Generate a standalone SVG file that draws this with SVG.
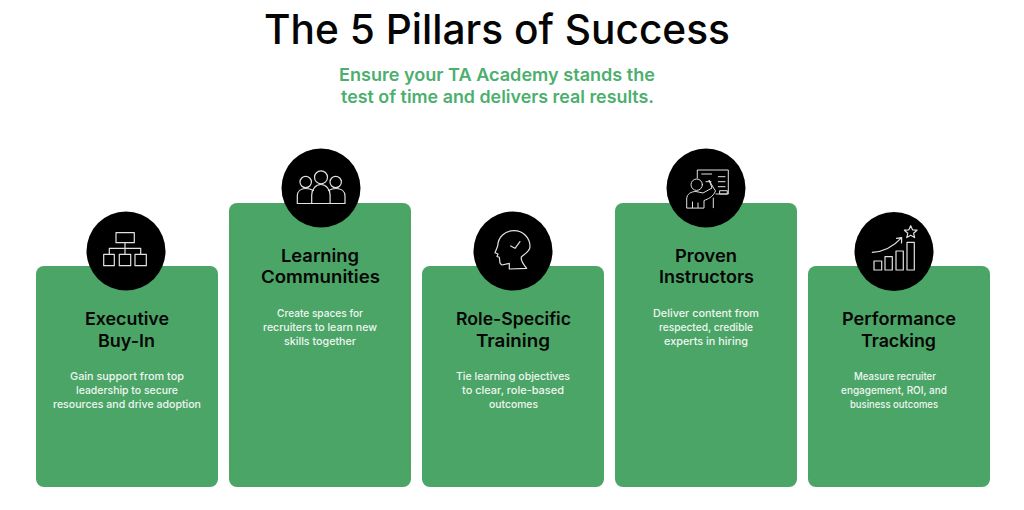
<svg xmlns="http://www.w3.org/2000/svg" width="1024" height="510" viewBox="0 0 1024 510">
<style>
text{font-family:"Inter","Liberation Sans",sans-serif;text-anchor:start}
.t{font-size:41px;font-weight:500;fill:#050505}
.s{font-size:17.5px;font-weight:600;fill:#4caf6e}
.h{font-size:17.5px;font-weight:600;fill:#060606}
.b{font-size:11px;font-weight:500;fill:#eef6f0}
.c{fill:#4ba566}
.k{fill:#000}
.i{fill:none;stroke:#e2e2e2;stroke-width:1.2;stroke-linejoin:round;stroke-linecap:round}
</style>
<rect width="1024" height="510" fill="#fff"/>
<g id="header">
<text class="t" x="264" y="44" textLength="466" lengthAdjust="spacingAndGlyphs">The 5 Pillars of Success</text>
<text class="s" x="339" y="81" textLength="316" lengthAdjust="spacingAndGlyphs">Ensure your TA Academy stands the</text>
<text class="s" x="341" y="103" textLength="313" lengthAdjust="spacingAndGlyphs">test of time and delivers real results.</text>
</g>
<g id="connectors"></g>
<g id="pillar-1">
<rect class="c" x="36" y="266" width="182" height="221" rx="8"/>
<circle class="k" cx="126" cy="251" r="39.5"/>
<g class="i">
<rect x="116" y="232.7" width="18.3" height="10"/>
<path d="M125 242.7V254.3M109.3 254.3V248.3H140.7V254.3"/>
<rect x="103.7" y="254.3" width="10.6" height="11.4"/>
<rect x="119.3" y="254.3" width="11.4" height="11.4"/>
<rect x="135" y="254.3" width="11.3" height="11.4"/>
</g>
<text class="h" x="85" y="325" textLength="84" lengthAdjust="spacingAndGlyphs">Executive</text>
<text class="h" x="98" y="347" textLength="57" lengthAdjust="spacingAndGlyphs">Buy-In</text>
<text class="b" x="70" y="380" textLength="114" lengthAdjust="spacingAndGlyphs">Gain support from top</text>
<text class="b" x="76" y="394" textLength="102" lengthAdjust="spacingAndGlyphs">leadership to secure</text>
<text class="b" x="53" y="408" textLength="148" lengthAdjust="spacingAndGlyphs">resources and drive adoption</text>
</g>
<g id="pillar-2">
<rect class="c" x="229" y="203" width="182" height="284" rx="8"/>
<circle class="k" cx="321" cy="188" r="39.5"/>
<g class="i">
<circle cx="321" cy="177.3" r="6.5"/>
<circle cx="305.7" cy="182" r="5.7"/>
<circle cx="335.7" cy="182" r="5.7"/>
<path d="M311.7 203.5V195a9.2 10.5 0 0 1 18.4 0V203.5"/>
<path d="M297.3 203.5H345V196C345 191 341 188.5 336 188.5Q332 188.5 328.5 190.5M297.3 203.5V196C297.3 191 301 188.5 305.5 188.5Q310 188.5 313.5 190.5"/>
</g>
<text class="h" x="281" y="262" textLength="78" lengthAdjust="spacingAndGlyphs">Learning</text>
<text class="h" x="261" y="283" textLength="119" lengthAdjust="spacingAndGlyphs">Communities</text>
<text class="b" x="277" y="317" textLength="86" lengthAdjust="spacingAndGlyphs">Create spaces for</text>
<text class="b" x="263" y="331" textLength="114" lengthAdjust="spacingAndGlyphs">recruiters to learn new</text>
<text class="b" x="284" y="345" textLength="72" lengthAdjust="spacingAndGlyphs">skills together</text>
</g>
<g id="pillar-3">
<rect class="c" x="422" y="266" width="182" height="221" rx="8"/>
<circle class="k" cx="513" cy="251" r="39.5"/>
<g class="i">
<path d="M526.7 268.300L509.300 269V263.300L502 265Q499.500 264 499.800 261L499.300 257.300L497 256.500L498 254L495 252.700L497.700 246C498 237 505 230.700 514 230.700C523 230.700 530 237.500 530 246.700C530 251 525 254 521.500 256.700C520 260 523 264 526.700 268.300Z"/>
<path d="M510.700 246L515 248.300L520 241.700"/>
</g>
<text class="h" x="456" y="325" textLength="115" lengthAdjust="spacingAndGlyphs">Role-Specific</text>
<text class="h" x="476" y="347" textLength="74" lengthAdjust="spacingAndGlyphs">Training</text>
<text class="b" x="456" y="380" textLength="114" lengthAdjust="spacingAndGlyphs">Tie learning objectives</text>
<text class="b" x="462" y="394" textLength="102" lengthAdjust="spacingAndGlyphs">to clear, role-based</text>
<text class="b" x="489" y="408" textLength="49" lengthAdjust="spacingAndGlyphs">outcomes</text>
</g>
<g id="pillar-4">
<rect class="c" x="615" y="203" width="182" height="284" rx="8"/>
<circle class="k" cx="706" cy="188" r="39.5"/>
<g class="i" style="stroke-width:1">
<path d="M697.300 178V170H728.300V194H716"/>
<circle cx="696.700" cy="184.700" r="5.700"/>
<path d="M701.700 174H711.700M706 181.700H711M718.300 176.700H725M718.300 181.700H725M718.300 186.700H725"/>
<rect x="720" y="190.700" width="7.300" height="3.300"/>
<path d="M713.300 198V207.700"/>
<path d="M686.700 207.700V199C686.700 194 691 191.500 696 191.500L703 193L712 188L709 180L713 187L715.500 191C713 197 708 199 704 200.500V207.700ZM692.500 207.700V202M698 207.700V203"/>
</g>
<text class="h" x="675" y="262" textLength="62" lengthAdjust="spacingAndGlyphs">Proven</text>
<text class="h" x="659" y="283" textLength="95" lengthAdjust="spacingAndGlyphs">Instructors</text>
<text class="b" x="653" y="317" textLength="106" lengthAdjust="spacingAndGlyphs">Deliver content from</text>
<text class="b" x="659" y="331" textLength="94" lengthAdjust="spacingAndGlyphs">respected, credible</text>
<text class="b" x="664" y="345" textLength="84" lengthAdjust="spacingAndGlyphs">experts in hiring</text>
</g>
<g id="pillar-5">
<rect class="c" x="808" y="266" width="182" height="221" rx="8"/>
<circle class="k" cx="894" cy="251.500" r="39.500"/>
<g class="i">
<rect x="874" y="261" width="7.700" height="9"/>
<rect x="885" y="256.700" width="7.300" height="13.300"/>
<rect x="896" y="251" width="7.300" height="19"/>
<rect x="907" y="242.300" width="7.300" height="27.700"/>
<path d="M872.300 252.300C884 252 894 246 901.700 237.700M896.500 238.300L901.700 237.700L901.500 243"/>
<path d="M910.700 225.700L912.500 229.800L917 230.200L913.600 233.200L914.600 237.600L910.700 235.300L906.800 237.600L907.800 233.200L904.400 230.200L908.900 229.800Z"/>
</g>
<text class="h" x="842" y="325" textLength="114" lengthAdjust="spacingAndGlyphs">Performance</text>
<text class="h" x="861" y="347" textLength="75" lengthAdjust="spacingAndGlyphs">Tracking</text>
<text class="b" x="854" y="380" textLength="82" lengthAdjust="spacingAndGlyphs">Measure recruiter</text>
<text class="b" x="841" y="394" textLength="106" lengthAdjust="spacingAndGlyphs">engagement, ROI, and</text>
<text class="b" x="850" y="408" textLength="88" lengthAdjust="spacingAndGlyphs">business outcomes</text>
</g>
</svg>
